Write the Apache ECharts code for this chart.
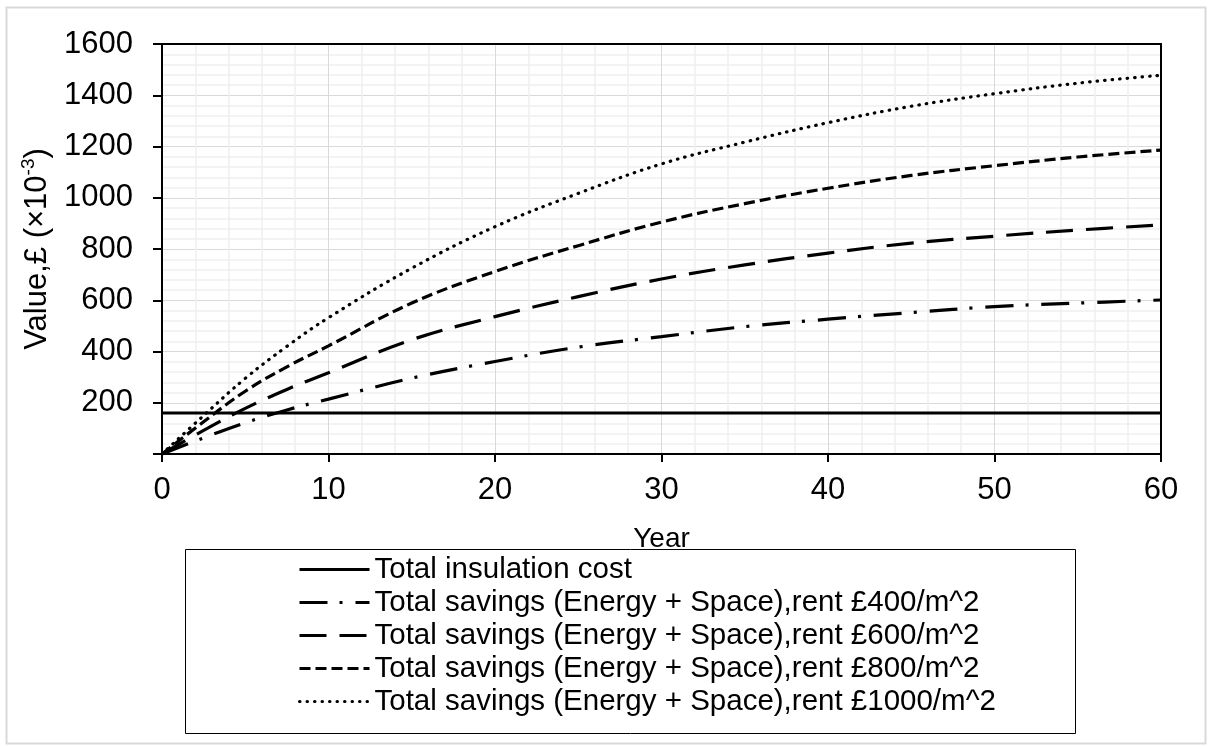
<!DOCTYPE html>
<html>
<head>
<meta charset="utf-8">
<script src="https://cdn.jsdelivr.net/npm/echarts@6/dist/echarts.min.js"></script>
<style>
html,body{margin:0;padding:0;background:#fff;}
#chart{width:1208px;height:746px;}
</style>
</head>
<body>
<div id="chart"></div>
<script>
// ---- data ----
const years = [0, 2.5, 5, 7.5, 10, 15, 20, 25, 30, 35, 40, 45, 50, 55, 60];
const insulationCost = [160, 160, 160, 160, 160, 160, 160, 160, 160, 160, 160, 160, 160, 160, 160];
const rent400  = [0, 63, 122, 172, 214, 296, 361, 417, 458, 497, 526, 552, 575, 589, 601];
const rent600  = [0, 92, 178, 252, 317, 446, 536, 614, 683, 738, 784, 823, 850, 874, 894];
const rent800  = [0, 126, 245, 340, 422, 589, 712, 813, 905, 977, 1037, 1087, 1125, 1159, 1186];
const rent1000 = [0, 150, 295, 420, 532, 725, 887, 1017, 1132, 1217, 1293, 1357, 1406, 1447, 1478];
const seriesNames = [
  'Total insulation cost',
  'Total savings (Energy + Space),rent £400/m^2',
  'Total savings (Energy + Space),rent £600/m^2',
  'Total savings (Energy + Space),rent £800/m^2',
  'Total savings (Energy + Space),rent £1000/m^2'
];
const yTicks = {min: 0, max: 1600, interval: 200};
const xTicks = {min: 0, max: 60, interval: 10};

const FONT = "'Liberation Sans', Arial, sans-serif";
const pairs = arr => years.map((y, i) => [y, arr[i]]);

const chart = echarts.init(document.getElementById('chart'), null, {renderer: 'canvas'});

function lineSeries(name, data, type, cap, smooth) {
  return {
    name: name,
    type: 'line',
    data: pairs(data),
    symbol: 'none',
    smooth: smooth,
    lineStyle: {color: '#000', width: 3.2, type: type, cap: cap || 'butt'},
    itemStyle: {color: 'rgba(0,0,0,0)', opacity: 0},
    emphasis: {disabled: true},
    animation: false,
    z: 5
  };
}

const frameAxis = {
  show: true,
  axisLine: {show: true, onZero: false, lineStyle: {color: '#000', width: 2}},
  axisTick: {show: false},
  axisLabel: {show: false},
  splitLine: {show: false}
};

chart.setOption({
  backgroundColor: '#fff',
  animation: false,
  graphic: [
    {type: 'rect', left: 4, top: 5, shape: {width: 1199, height: 736},
     style: {fill: 'none', stroke: '#d9d9d9', lineWidth: 2}, z: 0, silent: true},
    {type: 'rect', left: 185, top: 549, shape: {width: 890, height: 184},
     style: {fill: '#fff', stroke: '#000', lineWidth: 1}, z: 10, silent: true}
  ],
  grid: {left: 162, right: 47, top: 44, bottom: 292, show: false},
  legend: {
    orient: 'vertical',
    left: 298,
    top: 553,
    itemWidth: 70,
    itemHeight: 14,
    itemGap: 0,
    padding: 0,
    z: 20,
    itemStyle: {color: 'rgba(0,0,0,0)', opacity: 0, borderWidth: 0},
    lineStyle: {width: 3},
    textStyle: {fontSize: 29.5, lineHeight: 33, color: '#000', fontFamily: FONT},
    data: seriesNames
  },
  xAxis: [{
    type: 'value',
    min: xTicks.min, max: xTicks.max, interval: xTicks.interval,
    name: 'Year',
    nameLocation: 'middle',
    nameGap: 71,
    nameTextStyle: {fontSize: 28, color: '#000', fontFamily: FONT},
    axisLine: {show: true, onZero: false, lineStyle: {color: '#000', width: 2}},
    axisTick: {show: true, length: 8, lineStyle: {color: '#000', width: 2}},
    axisLabel: {fontSize: 31, color: '#000', fontFamily: FONT, margin: 21},
    splitLine: {show: true, lineStyle: {color: '#d9d9d9', width: 1}},
    minorTick: {show: false, splitNumber: 5},
    minorSplitLine: {show: true, lineStyle: {color: '#efefef', width: 1.5}}
  }, Object.assign({type: 'value', position: 'top', min: xTicks.min, max: xTicks.max}, frameAxis)],
  yAxis: [{
    type: 'value',
    min: yTicks.min, max: yTicks.max, interval: yTicks.interval,
    name: '{n|Value,£ (×10}{s|-3}{n|)}',
    nameLocation: 'middle',
    nameRotate: 90,
    nameGap: 108,
    nameTextStyle: {
      color: '#000', fontFamily: FONT,
      rich: {
        n: {fontSize: 31, lineHeight: 34, color: '#000', fontFamily: FONT, verticalAlign: 'bottom'},
        s: {fontSize: 19, lineHeight: 34, color: '#000', fontFamily: FONT, verticalAlign: 'top'}
      }
    },
    axisLine: {show: true, onZero: false, lineStyle: {color: '#000', width: 2}},
    axisTick: {show: true, length: 9, lineStyle: {color: '#000', width: 2}},
    axisLabel: {fontSize: 31, color: '#000', fontFamily: FONT, margin: 29,
      formatter: v => (v === 0 ? '' : String(v))},
    splitLine: {show: true, lineStyle: {color: '#d9d9d9', width: 1}},
    minorTick: {show: false, splitNumber: 5},
    minorSplitLine: {show: true, lineStyle: {color: '#efefef', width: 1.5}}
  }, Object.assign({type: 'value', position: 'right', min: yTicks.min, max: yTicks.max}, frameAxis)],
  series: [
    lineSeries(seriesNames[0], insulationCost, 'solid', 'butt', false),
    lineSeries(seriesNames[1], rent400, [28, 12, 3, 13], 'butt', 0.4),
    lineSeries(seriesNames[2], rent600, [27, 13], 'butt', 0.4),
    lineSeries(seriesNames[3], rent800, [11, 5], 'butt', 0.4),
    lineSeries(seriesNames[4], rent1000, [0.5, 7], 'round', 0.4)
  ]
});
</script>
</body>
</html>
